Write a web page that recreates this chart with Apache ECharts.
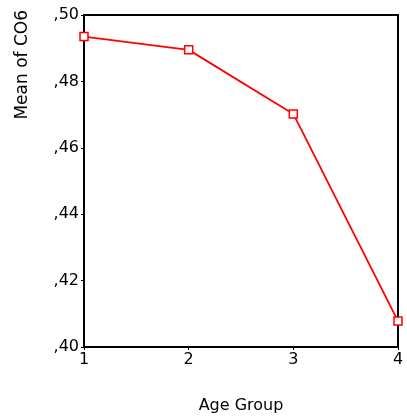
<!DOCTYPE html>
<html><head><meta charset="utf-8">
<script src="https://cdn.jsdelivr.net/npm/echarts@6/dist/echarts.min.js"></script>
<style>html,body{margin:0;padding:0;background:#fff}#c{width:407px;height:416px}</style>
</head><body><div id="c"></div>
<script>
const ageGroups = [1, 2, 3, 4];
const meanCO6 = [0.4935, 0.4895, 0.4702, 0.4078];
const yTicks = [0.40, 0.42, 0.44, 0.46, 0.48, 0.50];

const chart = echarts.init(document.getElementById('c'));
const font = 'DejaVu Sans, sans-serif';
chart.setOption({
  animation: false,
  grid: { left: 84, right: 9, top: 15, bottom: 69, outerBoundsMode: 'none', containLabel: false,
    show: true, borderColor: '#000', borderWidth: 2, backgroundColor: 'transparent' },
  xAxis: {
    type: 'value', min: 1, max: 4, interval: 1,
    name: 'Age Group', nameLocation: 'middle', nameGap: 51,
    nameTextStyle: { color: '#000', fontSize: 16, fontFamily: font },
    axisLine: { show: true, lineStyle: { color: '#000', width: 2 } },
    axisTick: { show: true, length: 3, lineStyle: { color: '#000' } },
    axisLabel: { color: '#000', fontSize: 16, fontFamily: font, margin: 5 },
    splitLine: { show: false }
  },
  yAxis: {
    type: 'value', min: 0.40, max: 0.50, interval: 0.02,
    axisLine: { show: true, lineStyle: { color: '#000', width: 2 } },
    axisTick: { show: true, length: 3, lineStyle: { color: '#000' } },
    axisLabel: { color: '#000', fontSize: 16, fontFamily: font, margin: 5,
      formatter: v => v.toFixed(2).replace('0.', ',') },
    splitLine: { show: false }
  },
  graphic: [{
    type: 'text', left: 14, top: 10, rotation: Math.PI / 2,
    style: { text: 'Mean of CO6', fill: '#000', font: '17px ' + font }
  }],
  series: [{
    type: 'line',
    data: ageGroups.map((a, i) => [a, meanCO6[i]]),
    symbol: 'rect', symbolSize: 8, showSymbol: true,
    itemStyle: { color: '#fff', borderColor: '#ff0000', borderWidth: 1.5 },
    lineStyle: { color: '#ff0000', width: 1.8 },
    clip: false
  }]
});
</script></body></html>
